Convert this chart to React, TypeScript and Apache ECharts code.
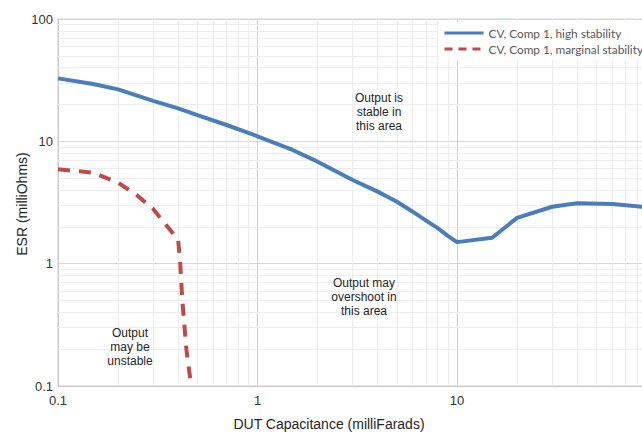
import React, { useEffect, useRef } from "react";
import * as echarts from "echarts";

const seriesNames = ["CV, Comp 1, high stability", "CV, Comp 1, marginal stability"];

const highCap = [0.1, 0.15, 0.2, 0.3, 0.4, 0.5, 0.7, 1, 1.5, 2, 3, 4, 5, 6, 7, 8, 9, 10, 15, 20, 30, 40, 60, 100];
const highEsr = [32.7, 29.4, 26.6, 21.4, 18.6, 16.4, 13.6, 11.0, 8.5, 6.82, 4.83, 3.88, 3.21, 2.66, 2.25, 1.95, 1.69, 1.5, 1.63, 2.37, 2.92, 3.12, 3.08, 2.84];

const marginalCap = [0.1, 0.15, 0.2, 0.25, 0.3, 0.35, 0.4, 0.41, 0.42, 0.44, 0.46];
const marginalEsr = [5.9, 5.55, 4.6, 3.6, 2.8, 2.05, 1.58, 1.0, 0.5, 0.2, 0.115];

const xMinor = [0.2, 0.3, 0.4, 0.5, 0.6, 0.7, 0.8, 0.9, 2, 3, 4, 5, 6, 7, 8, 9, 20, 30, 40, 50, 60, 70, 80, 90];
const yMinor = [0.2, 0.3, 0.4, 0.5, 0.6, 0.7, 0.8, 0.9, 2, 3, 4, 5, 6, 7, 8, 9, 20, 30, 40, 50, 60, 70, 80, 90];

const xTitle = "DUT Capacitance (milliFarads)";
const yTitle = "ESR (milliOhms)";
const noteStable = "Output is\nstable in\nthis area";
const noteOvershoot = "Output may\novershoot in\nthis area";
const noteUnstable = "Output\nmay be\nunstable";

const fmt = (v: number) => String(Number(Number(v).toPrecision(6)));
const fmtX = (v: number) => (v >= 100 ? "" : fmt(v));

export default function App() {
  const ref = useRef<HTMLDivElement>(null);
  useEffect(() => {
    if (!ref.current) return;
    const chart = echarts.init(ref.current, null, { renderer: "svg" });
    const font = "'Liberation Sans', Arial, sans-serif";
    const noteStyle = (text: string) => ({
      text,
      font: `12px ${font}`,
      fill: "#262626",
      align: "center",
      verticalAlign: "middle",
      lineHeight: 14,
    });
    chart.setOption({
      animation: false,
      backgroundColor: "#ffffff",
      grid: {
        left: 58,
        top: 19,
        right: 23.5,
        bottom: 48,
        show: true,
        borderColor: "#d0d0d0",
        borderWidth: 1,
        backgroundColor: "transparent",
      },
      legend: {
        orient: "vertical",
        left: 438,
        top: 22,
        z: 20,
        padding: [5, 4, 5, 5],
        backgroundColor: "#ffffff",
        itemWidth: 39,
        itemHeight: 14,
        itemGap: 4,
        textStyle: { fontFamily: "Lato, sans-serif", fontSize: 11.8, color: "#595959" },
        itemStyle: { opacity: 0 },
        lineStyle: { width: 3 },
        data: [
          { name: seriesNames[0], lineStyle: { width: 3, type: "solid" } },
          { name: seriesNames[1], lineStyle: { width: 3, type: [8, 6] } },
        ],
      },
      xAxis: {
        type: "log",
        logBase: 10,
        min: 0.1,
        max: 100,
        axisLine: { lineStyle: { color: "#c8c8c8" } },
        axisTick: { show: false },
        axisLabel: { fontFamily: font, fontSize: 13, color: "#333", margin: 8, formatter: fmtX },
        splitLine: { show: true, lineStyle: { color: "#d0d0d0", width: 1 } },
      },
      yAxis: {
        type: "log",
        logBase: 10,
        min: 0.1,
        max: 100,
        axisLine: { show: true, lineStyle: { color: "#c8c8c8" } },
        axisTick: { show: false },
        axisLabel: { fontFamily: font, fontSize: 13, color: "#333", margin: 5, formatter: fmt },
        splitLine: { show: true, lineStyle: { color: "#d9d9d9", width: 1 } },
      },
      graphic: [
        {
          type: "text",
          z: 30,
          x: 329,
          y: 424,
          style: { text: xTitle, font: `14px ${font}`, fill: "#262626", align: "center", verticalAlign: "middle" },
        },
        {
          type: "text",
          z: 30,
          x: 22,
          y: 204,
          rotation: Math.PI / 2,
          style: { text: yTitle, font: `14px ${font}`, fill: "#262626", align: "center", verticalAlign: "middle" },
        },
        { type: "text", z: 30, x: 379, y: 111.5, style: noteStyle(noteStable) },
        { type: "text", z: 30, x: 364, y: 297, style: noteStyle(noteOvershoot) },
        { type: "text", z: 30, x: 130, y: 346.5, style: noteStyle(noteUnstable) },
      ],
      series: [
        {
          name: "minor-grid",
          type: "line",
          data: [],
          z: 1,
          silent: true,
          markLine: {
            z: 1,
            silent: true,
            symbol: ["none", "none"],
            label: { show: false },
            lineStyle: { color: "#ededed", width: 1, type: "solid" },
            data: [...xMinor.map((v) => ({ xAxis: v })), ...yMinor.map((v) => ({ yAxis: v }))],
          },
        },
        {
          name: seriesNames[0],
          type: "line",
          z: 6,
          symbol: "none",
          showSymbol: false,
          data: highCap.map((c, i) => [c, highEsr[i]]),
          lineStyle: { color: "#4a7ebb", width: 4, join: "round" },
          itemStyle: { color: "#4a7ebb" },
        },
        {
          name: seriesNames[1],
          type: "line",
          z: 6,
          symbol: "none",
          showSymbol: false,
          data: marginalCap.map((c, i) => [c, marginalEsr[i]]),
          lineStyle: { color: "#be4b48", width: 4, type: [12, 9], cap: "butt" },
          itemStyle: { color: "#be4b48" },
        },
      ],
    });
    return () => chart.dispose();
  }, []);
  return (
    <div style={{ position: "absolute", left: 0, top: 0, width: 642, height: 434, overflow: "hidden", background: "#fff" }}>
      <div ref={ref} style={{ width: 680, height: 434 }} />
    </div>
  );
}
